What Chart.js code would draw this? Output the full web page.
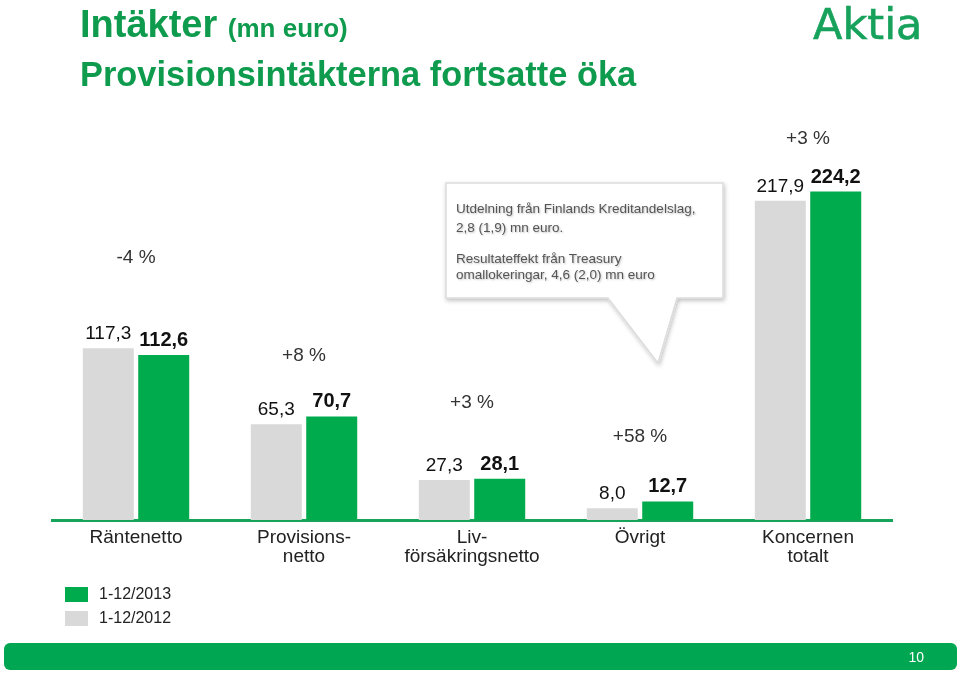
<!DOCTYPE html>
<html lang="sv">
<head>
<meta charset="utf-8">
<title>Intäkter</title>
<script src="https://cdn.jsdelivr.net/npm/chart.js@4.4.1/dist/chart.umd.min.js"></script>
<style>
  html, body { margin:0; padding:0; background:#fff; }
  body { width:960px; height:674px; position:relative; overflow:hidden; font-family:"Liberation Sans", Arial, sans-serif; }
  #chart { position:absolute; left:0; top:0; }
  .title { position:absolute; left:80px; color:#0f9b4e; font-weight:bold; white-space:nowrap; line-height:1; }
  #t1 { top:5px; font-size:38px; }
  #t1 span { font-size:26px; }
  #t2 { top:57px; font-size:34.4px; }
  #logo { position:absolute; left:813px; top:3px; font-family:"DejaVu Sans", sans-serif; font-size:43px; line-height:1; color:#17a25c; -webkit-text-stroke:0.6px #17a25c; }
  #callout { position:absolute; left:0; top:0; pointer-events:none; }
  .note { position:absolute; left:456px; font-size:13.5px; color:#555; white-space:nowrap; line-height:1; text-shadow:1px 1px 2px rgba(0,0,0,0.25); }
  #legend { position:absolute; left:65px; top:582px; }
  .leg { display:flex; align-items:center; height:24px; font-size:16px; color:#222; }
  .leg i { display:inline-block; width:23px; height:15px; margin-right:11px; }
  #footer { position:absolute; left:4px; top:643px; width:953px; height:27px; background:#00a651; border-radius:6px; }
  #footer span { position:absolute; right:33px; top:7px; color:#fff; font-size:14px; line-height:1; }
</style>
</head>
<body>
<canvas id="chart" width="960" height="674"></canvas>

<div class="title" id="t1">Intäkter <span>(mn euro)</span></div>
<div class="title" id="t2">Provisionsintäkterna fortsatte öka</div>
<div id="logo">Aktia</div>

<svg id="callout" width="960" height="674">
  <defs>
    <filter id="sh" x="-10%" y="-10%" width="120%" height="130%">
      <feDropShadow dx="1" dy="2" stdDeviation="2" flood-color="#000" flood-opacity="0.25"/>
    </filter>
  </defs>
  <path d="M446,183 H723 V298 H677 L658,363 L608,298 H446 Z" fill="#fff" stroke="#dcdcdc" stroke-width="1.5" filter="url(#sh)"/>
</svg>
<div class="note" style="top:202px">Utdelning från Finlands Kreditandelslag,</div>
<div class="note" style="top:221px">2,8 (1,9) mn euro.</div>
<div class="note" style="top:252px">Resultateffekt från Treasury</div>
<div class="note" style="top:268px">omallokeringar, 4,6 (2,0) mn euro</div>

<div id="legend"></div>
<div id="footer"><span>10</span></div>

<script>
const categories = ["Räntenetto", ["Provisions-", "netto"], ["Liv-", "försäkringsnetto"], "Övrigt", ["Koncernen", "totalt"]];
const values2012 = [117.3, 65.3, 27.3, 8.0, 217.9];
const values2013 = [112.6, 70.7, 28.1, 12.7, 224.2];
const changes = ["-4 %", "+8 %", "+3 %", "+58 %", "+3 %"];

const GREEN = "#00ab4e";
const GREY = "#d9d9d9";
const FONT = '"Liberation Sans", Arial, sans-serif';

// how far above the taller bar each change label sits (px)
const changeLift = [90, 61, 76, 65, 53];

function fmt(v) {
    return v.toFixed(1).replace(".", ",");
}

const barLabels = {
    id: "barLabels",
    afterDatasetsDraw(chart) {
        const ctx = chart.ctx;
        ctx.save();
        ctx.textAlign = "center";
        ctx.textBaseline = "alphabetic";
        ctx.fillStyle = "#111";
        chart.data.datasets.forEach((ds, di) => {
            ctx.font = (di === 1 ? "bold 20px " : "19px ") + FONT;
            chart.getDatasetMeta(di).data.forEach((bar, i) => {
                ctx.fillText(fmt(ds.data[i]), bar.x, bar.y - 9);
            });
        });

        ctx.font = "19px " + FONT;
        ctx.fillStyle = "#333";
        ctx.textBaseline = "middle";
        const xs = chart.scales.x;
        changes.forEach((txt, i) => {
            const top = Math.min(...chart.data.datasets.map((d, di) => chart.getDatasetMeta(di).data[i].y));
            ctx.fillText(txt, xs.getPixelForValue(i), top - changeLift[i]);
        });
        ctx.restore();
    }
};

const ctx = document.getElementById("chart");

const chart = new Chart(ctx, {
    type: "bar",
    data: {
        labels: categories,
        datasets: [
        {
            label: "1-12/2012",
            data: values2012,
            backgroundColor: GREY,
            categoryPercentage: 0.66,
            barPercentage: 0.92
        },
        {
            label: "1-12/2013",
            data: values2013,
            backgroundColor: GREEN,
            categoryPercentage: 0.66,
            barPercentage: 0.92
        }]
    },
    options: {
        responsive: false,
        animation: false,
        layout: { padding: { left:52, right:68, top:120, bottom:94 } },
        plugins: {
            legend: { display:false },
            tooltip: { enabled:false }
        },
        scales: {
            x: {
                grid: { display:false },
                border: { color:"#16a35a", width:3 },
                ticks: {
                    color: "#222",
                    padding: 0,
                    font: { family:"Liberation Sans", size:19, lineHeight:1.0 }
                },
                afterFit: (scale) => { scale.height = 60; }
            },
            y: {
                display: false,
                min: 0,
                max: 273
            }
        }
    },
    plugins: [barLabels]
});

// legend, newest year first
const legend = document.getElementById("legend");
chart.data.datasets.slice().reverse().forEach(ds => {
    const row = document.createElement("div");
    row.className = "leg";
    row.innerHTML = '<i style="background:' + ds.backgroundColor + '"></i>' + ds.label;
    legend.appendChild(row);
});
</script>
</body>
</html>
